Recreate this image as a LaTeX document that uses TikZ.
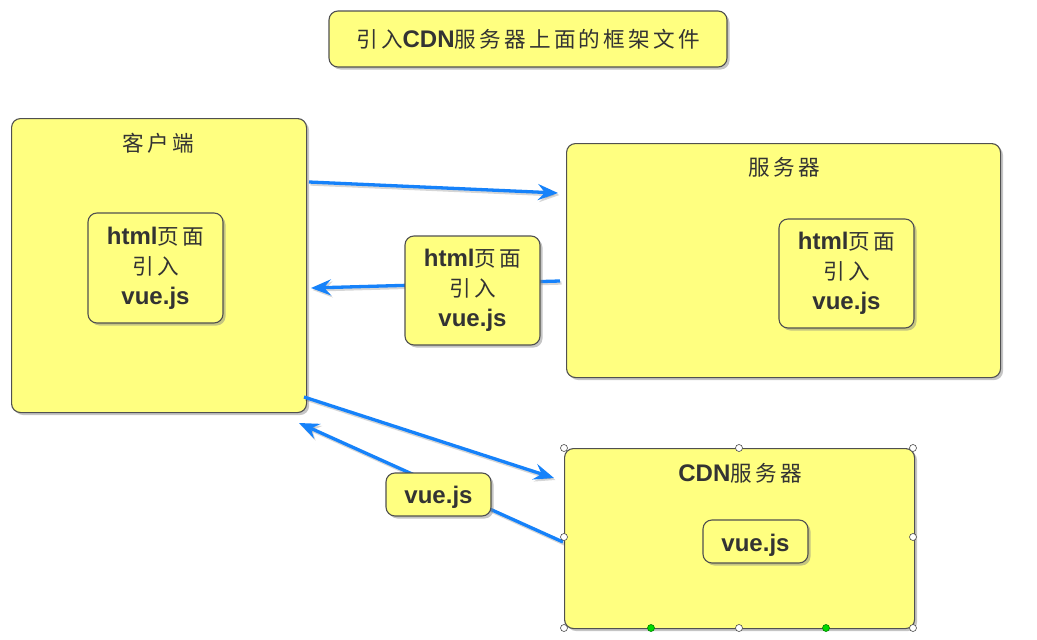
\documentclass[tikz,border=0pt]{standalone}
\usepackage{fontspec}
\setmainfont{Liberation Sans}
\newfontfamily\cjk[Scale=0.9,LetterSpace=15]{Noto Sans CJK SC}
\usetikzlibrary{shadows,arrows.meta}
\definecolor{boxfill}{HTML}{FFFF80}
\definecolor{boxline}{HTML}{505050}
\definecolor{txt}{HTML}{333333}
\definecolor{arrowblue}{HTML}{1682FA}
\newcommand{\lowr}[2]{\raisebox{-#1}[\height][\depth]{#2}}
\begin{document}
\begin{tikzpicture}[x=1pt,y=-1pt,
  box/.style={draw=boxline, line width=1.1pt, fill=boxfill, rounded corners=9pt,
    drop shadow={shadow xshift=2.5pt, shadow yshift=-2.5pt, opacity=0.45}},
  lbl/.style={text=txt, font=\fontsize{24}{30}\selectfont, align=center, inner sep=0pt},
  inbox/.style={box, text=txt, font=\fontsize{24}{30}\selectfont, align=center, inner sep=0pt},
  arr/.style={draw=arrowblue, line width=3.3pt,
    -{Stealth[length=20pt,width=16pt,inset=7pt]},
    preaction={draw=black, opacity=0.16, line width=3.3pt,
      -{Stealth[length=20pt,width=16pt,inset=7pt]},
      transform canvas={shift={(1.5pt,-2pt)}}}},
  handle/.style={circle, draw=black!70, fill=white, line width=0.6pt, inner sep=0pt, minimum size=7pt},
  ghandle/.style={handle, fill=green!85!black, draw=green!50!black}]
\useasboundingbox (0,0) rectangle (1037,640);
\fill[white] (0,0) rectangle (1037,640);

% title
\node[inbox, minimum width=398, minimum height=56] (title) at (528,39)
  {{\cjk 引入}{\bfseries CDN}{\cjk 服务器上面的框架文件}};

% big boxes
\node[box, minimum width=295, minimum height=294, anchor=north west] (client) at (11,118) {};
\node[lbl] (clientt) at (158,143) {\cjk 客户端};
\node[box, minimum width=434, minimum height=234, anchor=north west] (server) at (566,143) {};
\node[lbl] (servert) at (784,167) {\cjk 服务器};
\node[box, minimum width=350, minimum height=180, anchor=north west] (cdn) at (564,448) {};
\node[lbl] (cdnt) at (740,473) {{\bfseries CDN}{\cjk 服务器}};

% inner boxes
\node[inbox, minimum width=135, minimum height=110] (cin) at (155.5,268)
  {{\bfseries html}{\cjk 页面}\\{\cjk 引入}\\{\bfseries vue.js}};
\node[inbox, minimum width=135, minimum height=109] (sin) at (846.5,273.5)
  {{\bfseries html}{\cjk 页面}\\{\cjk 引入}\\{\bfseries vue.js}};
\node[inbox, minimum width=105, minimum height=43] (din) at (755.5,541.5)
  {\lowr{4pt}{\bfseries vue.js}};

% arrow end points
\coordinate (a1s) at (309,182);
\coordinate (a1e) at (558,193);
\coordinate (a2s) at (560,281);
\coordinate (a2e) at (311,288);
\coordinate (a3s) at (304,397);
\coordinate (a3e) at (554,478);
\coordinate (a4s) at (563,542);
\coordinate (a4e) at (299,423);

\draw[arr] (a1s) -- (a1e);
\draw[arr] (a2s) -- (a2e);
\draw[arr] (a3s) -- (a3e);
\draw[arr] (a4s) -- (a4e);

% labels on arrows
\node[inbox, minimum width=135, minimum height=109] (mid) at (472.5,290.5)
  {{\bfseries html}{\cjk 页面}\\{\cjk 引入}\\{\bfseries vue.js}};
\node[inbox, minimum width=105, minimum height=43] (vlab) at (438.5,494.5)
  {\lowr{3pt}{\bfseries vue.js}};

% selection handles
\foreach \p [count=\i] in {(564,448),(739,448),(913,448),(564,537),(913,537),(564,628),(739,628),(913,628)}
  \node[handle] (h\i) at \p {};
\node[ghandle] (g1) at (651,628) {};
\node[ghandle] (g2) at (826,628) {};
\end{tikzpicture}
\end{document}
